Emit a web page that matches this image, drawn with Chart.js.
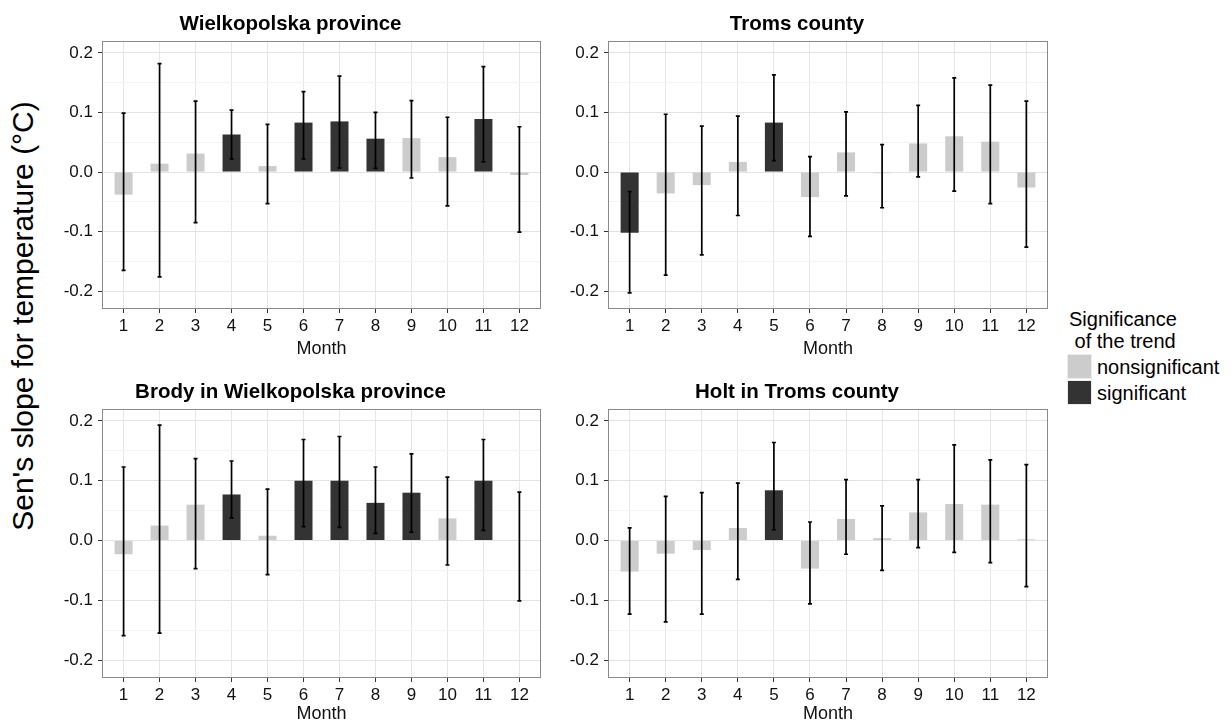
<!DOCTYPE html>
<html>
<head>
<meta charset="utf-8">
<script src="https://cdn.jsdelivr.net/npm/chart.js@4.4.1/dist/chart.umd.min.js"></script>
<style>
  body { margin: 0; background: #fff; width: 1231px; height: 722px; overflow: hidden; position: relative; font-family: "Liberation Sans", Arial, sans-serif; }
  canvas { position: absolute; }
  .txt { position: absolute; white-space: nowrap; color: #000; }
  .key { position: absolute; width: 25px; height: 25px; box-sizing: border-box; border: 1px solid #ececec; }
</style>
</head>
<body>
<canvas id="c1" width="506" height="360" style="left:40px;top:0px"></canvas>
<canvas id="c2" width="507" height="360" style="left:546px;top:0px"></canvas>
<canvas id="c3" width="506" height="357" style="left:40px;top:368px"></canvas>
<canvas id="c4" width="507" height="357" style="left:546px;top:368px"></canvas>

<div class="txt" style="left:23px;top:316px;font-size:30px;transform:translate(-50%,-50%) rotate(-90deg)">Sen's slope for temperature (°C)</div>

<div class="txt" style="left:1069px;top:307px;font-size:20px;line-height:24px">Significance</div>
<div class="txt" style="left:1069px;top:329px;font-size:20px;line-height:24px">&nbsp;of the trend</div>
<div class="key" style="left:1067px;top:354px;background:#cccccc"></div>
<div class="key" style="left:1067px;top:380px;background:#333333"></div>
<div class="txt" style="left:1097px;top:355px;font-size:20px;line-height:24px">nonsignificant</div>
<div class="txt" style="left:1097px;top:381px;font-size:20px;line-height:24px">significant</div>

<script>
// months and y tick labels
const months = [1, 2, 3, 4, 5, 6, 7, 8, 9, 10, 11, 12];
const yTicks = [-0.2, -0.1, 0.0, 0.1, 0.2];
const yMinor = [-0.15, -0.05, 0.05, 0.15];

// Wielkopolska province
const wielkoSlope = [-0.038, 0.014, 0.031, 0.063, 0.010, 0.083, 0.085, 0.056, 0.057, 0.025, 0.089, -0.005];
const wielkoLow   = [-0.165, -0.176, -0.085, 0.022, -0.053, 0.022, 0.007, 0.006, -0.010, -0.057, 0.017, -0.101];
const wielkoHigh  = [0.099, 0.182, 0.119, 0.104, 0.080, 0.135, 0.161, 0.100, 0.120, 0.092, 0.177, 0.076];
const wielkoSig   = [0, 0, 0, 1, 0, 1, 1, 1, 0, 0, 1, 0];

// Troms county
const tromsSlope = [-0.102, -0.036, -0.022, 0.017, 0.083, -0.042, 0.033, -0.002, 0.048, 0.060, 0.051, -0.026];
const tromsLow   = [-0.203, -0.173, -0.139, -0.073, 0.019, -0.108, -0.040, -0.060, -0.008, -0.032, -0.053, -0.126];
const tromsHigh  = [-0.033, 0.097, 0.077, 0.094, 0.163, 0.026, 0.101, 0.046, 0.112, 0.158, 0.146, 0.119];
const tromsSig   = [1, 0, 0, 0, 1, 0, 0, 0, 0, 0, 0, 0];

// Brody in Wielkopolska province
const brodySlope = [-0.023, 0.025, 0.060, 0.077, 0.008, 0.100, 0.100, 0.063, 0.080, 0.037, 0.100, 0.000];
const brodyLow   = [-0.159, -0.155, -0.047, 0.038, -0.057, 0.023, 0.022, 0.012, 0.014, -0.041, 0.017, -0.101];
const brodyHigh  = [0.123, 0.193, 0.137, 0.133, 0.086, 0.169, 0.174, 0.123, 0.145, 0.106, 0.169, 0.081];
const brodySig   = [0, 0, 0, 1, 0, 1, 1, 1, 1, 0, 1, 0];

// Holt in Troms county
const holtSlope = [-0.052, -0.022, -0.016, 0.021, 0.084, -0.047, 0.036, 0.004, 0.047, 0.061, 0.060, 0.002];
const holtLow   = [-0.123, -0.136, -0.123, -0.065, 0.018, -0.106, -0.023, -0.050, -0.012, -0.020, -0.037, -0.077];
const holtHigh  = [0.021, 0.074, 0.080, 0.096, 0.164, 0.031, 0.102, 0.058, 0.102, 0.160, 0.135, 0.127];
const holtSig   = [0, 0, 0, 0, 1, 0, 0, 0, 0, 0, 0, 0];

const FONT = '"Liberation Sans", Arial, sans-serif';
const LIGHT = '#cccccc', DARK = '#333333';

function isMajor(v) {
  return yTicks.some(t => Math.abs(t - v) < 1e-6);
}

// error bars + panel border
const errorBars = {
  id: 'errorBars',
  afterDatasetsDraw(chart, args, opts) {
    const { ctx, chartArea: a, scales: { x, y } } = chart;
    ctx.save();
    ctx.strokeStyle = '#000';
    ctx.lineWidth = 1.7;
    opts.low.forEach((lo, i) => {
      const px = x.getPixelForValue(months[i]);
      const y1 = y.getPixelForValue(lo);
      const y2 = y.getPixelForValue(opts.high[i]);
      ctx.beginPath();
      ctx.moveTo(px, y1); ctx.lineTo(px, y2);
      ctx.moveTo(px - 2, y1); ctx.lineTo(px + 2, y1);
      ctx.moveTo(px - 2, y2); ctx.lineTo(px + 2, y2);
      ctx.stroke();
    });
    ctx.strokeStyle = '#8a8a8a';
    ctx.lineWidth = 1;
    ctx.strokeRect(a.left + 0.5, a.top + 0.5, a.width - 1, a.height - 1);
    ctx.restore();
  }
};

function makePanel(id, title, slope, low, high, sig, xHeight) {
  new Chart(document.getElementById(id), {
    type: 'bar',
    data: {
      datasets: [{
        data: months.map((m, i) => ({ x: m, y: slope[i] })),
        backgroundColor: sig.map(s => s ? DARK : LIGHT),
        borderWidth: 0,
        barPercentage: 0.5,
        categoryPercentage: 1
      }]
    },
    options: {
      responsive: false,
      animation: false,
      layout: { padding: { left: 0, right: 5, top: 0, bottom: 0 } },
      plugins: {
        legend: { display: false },
        tooltip: { enabled: false },
        title: {
          display: true,
          text: title,
          color: '#000',
          font: { family: FONT, size: 20.5, weight: 'bold' },
          padding: { top: 12.5, bottom: 3.9 }
        },
        errorBars: { low: low, high: high }
      },
      scales: {
        x: {
          type: 'linear',
          min: 0.4,
          max: 12.6,
          offset: false,
          afterBuildTicks: s => { s.ticks = months.map(v => ({ value: v })); },
          afterFit: s => { s.height = xHeight; },
          grid: { offset: false, color: '#e6e6e6', tickColor: '#333', tickLength: 4, lineWidth: 1 },
          border: { display: false },
          ticks: { color: '#111', font: { family: FONT, size: 17 }, padding: 3, maxRotation: 0, autoSkip: false },
          title: { display: true, text: 'Month', color: '#111', font: { family: FONT, size: 18 }, padding: 0 }
        },
        y: {
          min: -0.23,
          max: 0.22,
          afterBuildTicks: s => {
            s.ticks = yTicks.concat(yMinor).sort((a, b) => a - b).map(v => ({ value: v }));
          },
          afterFit: s => { s.width = 62; },
          ticks: {
            color: '#111',
            font: { family: FONT, size: 17 },
            padding: 5,
            callback: v => isMajor(v) ? (Math.abs(v) < 1e-6 ? '0.0' : v.toFixed(1)) : ''
          },
          grid: {
            color: c => isMajor(c.tick.value) ? '#e3e3e3' : '#f3f3f3',
            tickColor: c => isMajor(c.tick.value) ? '#333' : 'rgba(0,0,0,0)',
            tickLength: 4
          },
          border: { display: false }
        }
      }
    },
    plugins: [errorBars]
  });
}

makePanel('c1', 'Wielkopolska province', wielkoSlope, wielkoLow, wielkoHigh, wielkoSig, 51);
makePanel('c2', 'Troms county', tromsSlope, tromsLow, tromsHigh, tromsSig, 51);
makePanel('c3', 'Brody in Wielkopolska province', brodySlope, brodyLow, brodyHigh, brodySig, 47);
makePanel('c4', 'Holt in Troms county', holtSlope, holtLow, holtHigh, holtSig, 47);
</script>
</body>
</html>
